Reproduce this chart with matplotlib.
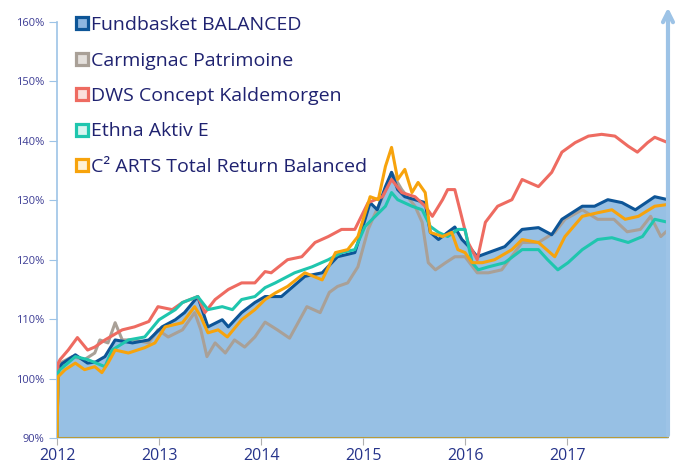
import matplotlib.pyplot as plt
from matplotlib.lines import Line2D

plt.rcParams['font.family'] = ['Open Sans', 'DejaVu Sans']

# fractional years / index values in %
fb_t = [2012.0, 2012.01, 2012.05, 2012.18, 2012.30, 2012.38, 2012.47, 2012.57, 2012.74, 2012.90,
        2013.03, 2013.16, 2013.25, 2013.38, 2013.48, 2013.62, 2013.68, 2013.81, 2013.94, 2014.04,
        2014.20, 2014.43, 2014.60, 2014.75, 2014.92, 2014.99, 2015.07, 2015.14, 2015.22, 2015.28,
        2015.34, 2015.41, 2015.51, 2015.61, 2015.66, 2015.74, 2015.83, 2015.90, 2015.97, 2016.05,
        2016.12, 2016.23, 2016.39, 2016.56, 2016.72, 2016.85, 2016.95, 2017.15, 2017.27, 2017.40,
        2017.54, 2017.67, 2017.86, 2017.99]
fb_v = [90, 101.5, 102.5, 104.0, 102.6, 102.8, 103.7, 106.5, 106.0, 106.5,
        108.7, 109.9, 111.1, 113.8, 108.7, 109.9, 108.7, 111.1, 112.8, 113.8,
        113.8, 117.2, 117.8, 120.5, 121.2, 125.1, 129.6, 128.4, 132.3, 134.7,
        131.8, 130.6, 130.1, 129.6, 124.6, 123.4, 124.6, 125.5, 123.4, 122.0,
        120.5, 121.2, 122.2, 125.1, 125.4, 124.2, 126.8, 129.0, 129.0, 130.1,
        129.6, 128.4, 130.6, 130.1]

cp_t = [2012.0, 2012.01, 2012.03, 2012.15, 2012.27, 2012.37, 2012.42, 2012.50, 2012.57, 2012.64,
        2012.76, 2012.90, 2012.99, 2013.09, 2013.23, 2013.35, 2013.41, 2013.47, 2013.55, 2013.65,
        2013.74, 2013.84, 2013.94, 2014.04, 2014.16, 2014.28, 2014.45, 2014.58, 2014.67, 2014.75,
        2014.85, 2014.95, 2015.05, 2015.15, 2015.24, 2015.28, 2015.38, 2015.51, 2015.58, 2015.64,
        2015.71, 2015.81, 2015.90, 2016.00, 2016.12, 2016.23, 2016.36, 2016.56, 2016.72, 2016.88,
        2016.98, 2017.15, 2017.30, 2017.46, 2017.59, 2017.72, 2017.82, 2017.92, 2017.99]
cp_v = [90, 102.0, 102.6, 103.7, 103.2, 104.3, 106.5, 106.0, 109.4, 106.5,
        106.5, 106.0, 108.2, 107.0, 108.2, 111.1, 108.2, 103.7, 106.0, 104.3,
        106.5, 105.3, 107.0, 109.5, 108.2, 106.8, 112.1, 111.1, 114.5, 115.5,
        116.1, 118.8, 125.1, 129.0, 132.3, 134.7, 131.8, 129.0, 126.3, 119.5,
        118.3, 119.5, 120.5, 120.5, 117.8, 117.8, 118.3, 122.9, 122.9, 124.6,
        126.8, 128.4, 126.8, 126.8, 124.7, 125.1, 127.3, 123.9, 125.0]

dws_t = [2012.0, 2012.01, 2012.03, 2012.11, 2012.20, 2012.30, 2012.37, 2012.47, 2012.64, 2012.76,
         2012.90, 2012.99, 2013.13, 2013.23, 2013.38, 2013.45, 2013.55, 2013.68, 2013.81, 2013.94,
         2014.04, 2014.10, 2014.26, 2014.40, 2014.53, 2014.66, 2014.79, 2014.92, 2015.05, 2015.19,
         2015.28, 2015.38, 2015.51, 2015.61, 2015.68, 2015.78, 2015.83, 2015.90, 2015.95, 2016.03,
         2016.12, 2016.20, 2016.32, 2016.46, 2016.56, 2016.72, 2016.85, 2016.95, 2017.08, 2017.21,
         2017.34, 2017.47, 2017.60, 2017.69, 2017.79, 2017.86, 2017.99]
dws_v = [90, 102.5, 103.2, 104.8, 106.9, 104.8, 105.3, 106.5, 108.2, 108.7,
         109.6, 112.1, 111.6, 112.8, 113.8, 111.1, 113.3, 115.0, 116.1, 116.1,
         118.0, 117.8, 120.0, 120.5, 122.9, 123.9, 125.1, 125.1, 129.6, 130.6,
         133.5, 131.3, 130.6, 129.0, 127.3, 130.1, 131.8, 131.8, 128.4, 122.9,
         120.0, 126.3, 129.0, 130.1, 133.5, 132.3, 134.7, 138.1, 139.7, 140.8,
         141.1, 140.8, 139.1, 138.1, 139.7, 140.6, 139.7]

eth_t = [2012.0, 2012.01, 2012.03, 2012.18, 2012.30, 2012.47, 2012.54, 2012.70, 2012.86, 2013.00,
         2013.16, 2013.23, 2013.38, 2013.48, 2013.62, 2013.72, 2013.81, 2013.94, 2014.04, 2014.14,
         2014.33, 2014.50, 2014.66, 2014.79, 2014.92, 2015.02, 2015.12, 2015.22, 2015.28, 2015.34,
         2015.48, 2015.58, 2015.66, 2015.74, 2015.83, 2015.93, 2016.00, 2016.07, 2016.13, 2016.23,
         2016.39, 2016.56, 2016.72, 2016.81, 2016.91, 2017.01, 2017.15, 2017.30, 2017.44, 2017.60,
         2017.74, 2017.86, 2017.99]
eth_v = [90, 101.0, 101.5, 103.7, 103.2, 102.0, 104.8, 106.5, 107.0, 109.9,
         111.6, 112.8, 113.8, 111.6, 112.1, 111.6, 113.3, 113.8, 115.3, 116.1,
         117.8, 118.8, 120.0, 121.2, 121.7, 125.6, 127.3, 129.0, 131.3, 130.1,
         129.0, 128.4, 125.6, 124.6, 123.9, 125.1, 125.1, 119.5, 118.3, 118.8,
         119.5, 121.7, 121.7, 120.0, 118.3, 119.5, 121.7, 123.4, 123.7, 122.9,
         123.9, 126.8, 126.3]

c2_t = [2012.0, 2012.01, 2012.08, 2012.18, 2012.27, 2012.37, 2012.44, 2012.50, 2012.57, 2012.70,
        2012.86, 2012.96, 2013.06, 2013.23, 2013.35, 2013.41, 2013.48, 2013.58, 2013.67, 2013.81,
        2013.94, 2014.04, 2014.14, 2014.26, 2014.43, 2014.60, 2014.73, 2014.85, 2014.95, 2015.07,
        2015.15, 2015.22, 2015.28, 2015.34, 2015.41, 2015.48, 2015.54, 2015.61, 2015.66, 2015.78,
        2015.87, 2015.93, 2016.00, 2016.07, 2016.17, 2016.29, 2016.46, 2016.56, 2016.72, 2016.88,
        2016.98, 2017.15, 2017.30, 2017.44, 2017.57, 2017.70, 2017.86, 2017.99]
c2_v = [90, 100.3, 101.5, 102.6, 101.5, 102.0, 101.0, 102.6, 104.8, 104.3,
        105.2, 106.0, 108.7, 109.4, 112.1, 110.4, 107.7, 108.2, 107.0, 109.9,
        111.6, 113.3, 114.4, 115.5, 117.8, 116.6, 121.2, 121.7, 123.9, 130.6,
        130.1, 135.7, 138.9, 133.5, 135.2, 131.3, 133.0, 131.3, 124.6, 123.9,
        124.6, 121.7, 121.2, 119.5, 119.5, 120.0, 121.7, 123.4, 122.9, 120.5,
        123.9, 127.3, 127.9, 128.4, 126.8, 127.3, 129.0, 129.3]

labels = ['Fundbasket BALANCED', 'Carmignac Patrimoine', 'DWS Concept Kaldemorgen',
          'Ethna Aktiv E', 'C² ARTS Total Return Balanced']
colors = ['#0D5597', '#A9A097', '#EE6B61', '#1FC6AE', '#F7A30C']
inner = ['#8DB6E0', '#E4E0DC', '#FBE0DC', '#D8F5F0', '#FFF1D6']
years = [2012, 2013, 2014, 2015, 2016, 2017]
yticks = [90, 100, 110, 120, 130, 140, 150, 160]

fig = plt.figure(figsize=(6.77, 4.66), dpi=100)
ax = fig.add_axes([57 / 677, 28 / 466, 612 / 677, 416 / 466])

light = '#9DC3E6'
ax.fill_between(fb_t, 90, fb_v, color='#97C0E4', lw=0, zorder=1)
ax.axhline(90, color='#B89B3A', lw=2.2, zorder=2)

lw = 2.2
ax.plot(cp_t, cp_v, color=colors[1], lw=lw, zorder=3)
ax.plot(fb_t, fb_v, color=colors[0], lw=lw, zorder=4)
ax.plot(dws_t, dws_v, color=colors[2], lw=lw, zorder=5)
ax.plot(eth_t, eth_v, color=colors[3], lw=lw, zorder=6)
ax.plot(c2_t, c2_v, color=colors[4], lw=lw, zorder=7)

ax.set_xlim(2012, 2018)
ax.set_ylim(90, 160)
ax.set_xticks(years)
ax.set_xticklabels([str(y) for y in years], fontsize=11.5, color='#25338A')
ax.set_yticks(yticks)
ax.set_yticklabels([f'{v}%' for v in yticks], fontsize=8, color='#3D3D95')
ax.tick_params(axis='y', length=6, color=light, pad=3)
ax.tick_params(axis='x', length=5, color='#B0B0B0', pad=2)

for s in ['top', 'right', 'bottom']:
    ax.spines[s].set_visible(False)
ax.spines['left'].set_color(light)
ax.spines['left'].set_linewidth(1.2)

# arrow at the right end
ax.annotate('', xy=(2017.99, 162.9), xytext=(2017.99, 90),
            arrowprops=dict(arrowstyle='->', color=light, lw=3, mutation_scale=18),
            annotation_clip=False, zorder=8)

handles = [Line2D([], [], ls='none', marker='s', markersize=9, markeredgewidth=2.3,
                  markeredgecolor=c, markerfacecolor=f) for c, f in zip(colors, inner)]
leg = fig.legend(handles, labels, loc='upper left', bbox_to_anchor=(76 / 677, 1 - 16 / 466),
                 bbox_transform=fig.transFigure, frameon=False, fontsize=14,
                 handlelength=0.65, handletextpad=0.12, labelspacing=0.9,
                 borderpad=0, borderaxespad=0)
for t in leg.get_texts():
    t.set_color('#1F2270')

fig.savefig('out.png', dpi=100)
